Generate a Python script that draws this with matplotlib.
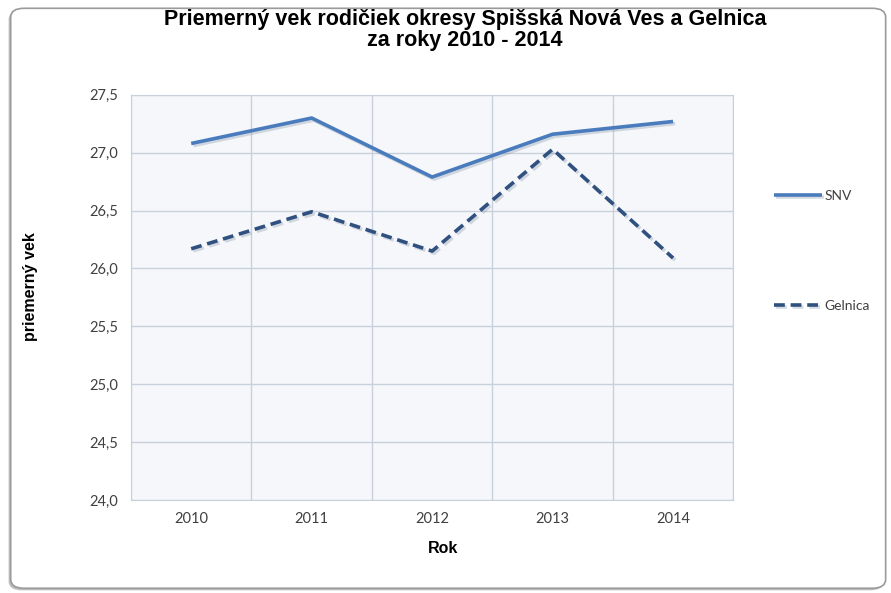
import matplotlib
matplotlib.use("Agg")
import matplotlib.pyplot as plt
import matplotlib.patheffects as pe
from matplotlib.patches import FancyBboxPatch

years = ["2010", "2011", "2012", "2013", "2014"]
snv = [27.08, 27.30, 26.79, 27.16, 27.27]
gelnica = [26.17, 26.49, 26.15, 27.03, 26.09]
yticks = [24.0, 24.5, 25.0, 25.5, 26.0, 26.5, 27.0, 27.5]

fig = plt.figure(figsize=(8.91, 5.93), dpi=100)
fig.patch.set_facecolor("white")

# rounded frame around the chart, kept behind the axes
frame = FancyBboxPatch((0.012, 0.008), 0.982, 0.978,
                       boxstyle="round,pad=0,rounding_size=0.015",
                       transform=fig.transFigure, facecolor="white",
                       edgecolor="#9a9a9a", linewidth=1.2, zorder=-10,
                       path_effects=[pe.SimplePatchShadow(offset=(-1.5, -1.5), shadow_rgbFace="#b0b0b0", alpha=0.8),
                                     pe.Normal()])
fig.patches.append(frame)

ax = fig.add_axes([0.147, 0.157, 0.676, 0.683])
ax.set_facecolor("#f5f7fb")

x = list(range(len(years)))
shadow = [pe.SimpleLineShadow(offset=(1.5, -1.5), shadow_color="#8899aa", alpha=0.35), pe.Normal()]
ax.plot(x, snv, color="#4a7cbd", linewidth=2.6, solid_capstyle="butt", label="SNV", path_effects=shadow)
ax.plot(x, gelnica, color="#30507f", linewidth=2.6, linestyle=(0, (3, 1.6)), label="Gelnica", path_effects=shadow)

ax.set_xlim(-0.5, len(years) - 0.5)
ax.set_ylim(24.0, 27.5)
ax.set_yticks(yticks)
ax.set_yticklabels([f"{v:.1f}".replace(".", ",") for v in yticks])
ax.set_xticks(x)
ax.set_xticklabels(years)
ax.set_xticks([i - 0.5 for i in range(len(years) + 1)], minor=True)
ax.grid(True, axis="y", color="#c8d0dc", linewidth=1)
ax.grid(True, axis="x", which="minor", color="#c8d0dc", linewidth=1)
ax.tick_params(axis="both", which="both", length=0, labelsize=10.5, colors="#404040", pad=9)
for lbl in ax.get_xticklabels() + ax.get_yticklabels():
    lbl.set_family("Lato")
for s in ax.spines.values():
    s.set_color("#c8d0dc")

ax.set_xlabel("Rok", fontsize=11.5, fontweight="bold", family="Liberation Sans")
ax.xaxis.set_label_coords(0.518, -0.102)
ax.set_ylabel("priemerný vek", fontsize=11.5, fontweight="bold", family="Liberation Sans")
ax.yaxis.set_label_coords(-0.155, 0.526)
fig.suptitle("Priemerný vek rodičiek okresy Spišská Nová Ves a Gelnica\nza roky 2010 - 2014",
             fontsize=15.5, fontweight="bold", family="Liberation Sans", x=0.522, y=0.985, linespacing=1.0)

# legend entries placed as in the original (one per row, spread vertically)
h1, h2 = ax.get_lines()
fig.legend([h1], ["SNV"], loc="center left", bbox_to_anchor=(0.855, 0.67), frameon=False,
           fontsize=10, handlelength=3.4, handletextpad=0.2, labelcolor="#404040", prop={"family": "Lato", "size": 10})
fig.legend([h2], ["Gelnica"], loc="center left", bbox_to_anchor=(0.855, 0.484), frameon=False,
           handlelength=3.4, handletextpad=0.2, labelcolor="#404040", prop={"family": "Lato", "size": 10})

fig.savefig("out.png", dpi=100)
